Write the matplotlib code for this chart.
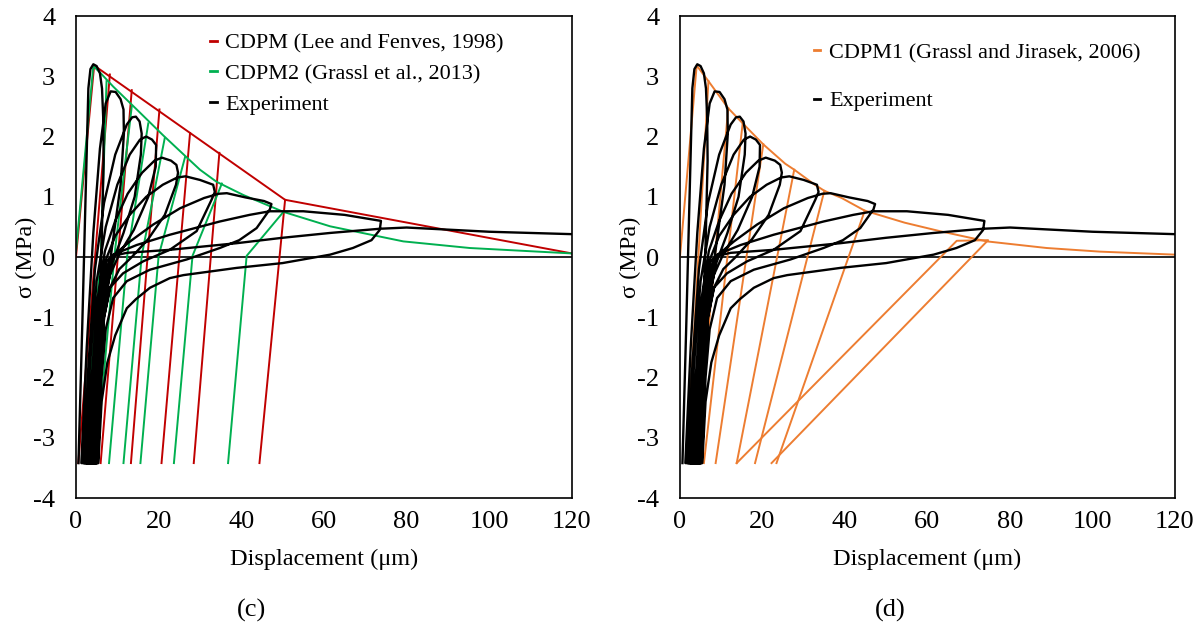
import numpy as np
import matplotlib.pyplot as plt
from matplotlib.lines import Line2D

plt.rcParams['font.family'] = ['Liberation Serif', 'DejaVu Serif']
plt.rcParams['axes.unicode_minus'] = False

# ---- experiment (same curve on both panels), one continuous path ----
exp_x = [0.6, 1.5, 2.4, 3.0, 3.5, 4.2, 5.0, 5.8, 6.3, 6.6,
         6.7, 6.2, 5.4, 4.7, 4.1,
         1.3, 2.6, 4.2, 5.8, 7.2, 8.4, 9.6, 10.8, 11.5,
         11.6, 10.8, 9.0, 7.4, 6.0, 5.0, 4.4,
         1.8, 3.0, 4.6, 6.8, 9.5, 12.3, 13.6, 14.5, 15.4, 15.9,
         15.7, 14.2, 11.5, 8.8, 7.0, 5.8, 5.0, 4.5,
         2.1, 3.4, 5.0, 7.2, 10.0, 13.0, 15.5, 17.0, 18.4, 19.4,
         19.3, 17.5, 14.0, 10.5, 8.2, 6.6, 5.5, 4.7,
         2.5, 3.8, 5.2, 7.0, 9.5, 12.5, 16.0, 19.0, 20.8, 23.0, 24.3, 24.7,
         24.2, 21.5, 17.5, 13.5, 10.5, 8.3, 6.8, 5.8, 4.9,
         2.8, 4.0, 5.5, 7.2, 9.5, 13.0, 17.0, 21.0, 24.5, 26.5, 30.0, 33.2, 33.6,
         32.8, 29.2, 22.7, 16.3, 11.4, 8.2, 6.8, 5.8, 5.0,
         3.1, 4.3, 5.8, 8.2, 13.1, 18.7, 25.2, 31.0, 34.5, 36.5, 41.0, 45.5, 47.3,
         46.9, 43.7, 39.5, 34.8, 26.8, 17.9, 12.3, 9.0, 7.2, 6.2, 5.3,
         3.4, 4.6, 6.2, 7.6, 9.0, 14.7, 22.7, 34.8, 42.0, 46.9, 55.0, 65.0, 73.8,
         73.5, 71.5, 67.0, 61.5, 50.0, 38.9, 26.0, 22.7, 17.9, 14.5, 12.3, 9.5, 7.6, 6.2, 5.4,
         3.7, 4.8, 5.6, 6.6, 7.4, 9.0, 12.3, 22.7, 38.9, 50.0, 61.5, 73.6, 80.0, 88.8, 100.0, 120.0]
exp_y = [-3.42, -1.2, 1.2, 2.8, 3.12, 3.2, 3.17, 3.05, 2.8, 2.3,
         1.6, 0.2, -1.3, -2.6, -3.42,
         -3.42, -1.5, 0.4, 1.8, 2.55, 2.75, 2.74, 2.62, 2.45,
         2.05, 1.2, 0.3, -0.5, -1.5, -2.5, -3.42,
         -3.42, -1.8, -0.2, 0.9, 1.7, 2.2, 2.32, 2.33, 2.25, 2.05,
         1.7, 1.0, 0.4, -0.1, -0.7, -1.6, -2.5, -3.42,
         -3.42, -1.8, -0.4, 0.5, 1.2, 1.7, 1.95, 2.0, 1.95, 1.86,
         1.5, 1.0, 0.45, 0.05, -0.3, -0.9, -1.9, -3.42,
         -3.42, -2.0, -0.7, 0.1, 0.6, 1.05, 1.4, 1.6, 1.65, 1.6, 1.53, 1.4,
         1.2, 0.7, 0.3, 0.0, -0.2, -0.5, -1.0, -2.0, -3.42,
         -3.42, -2.0, -0.8, -0.05, 0.35, 0.7, 1.0, 1.2, 1.32, 1.34, 1.28, 1.2, 1.08,
         0.95, 0.43, 0.12, -0.07, -0.27, -0.51, -1.0, -2.0, -3.42,
         -3.42, -2.0, -0.8, -0.02, 0.26, 0.54, 0.81, 0.98, 1.05, 1.06, 0.99, 0.93, 0.88,
         0.79, 0.48, 0.28, 0.15, -0.04, -0.21, -0.4, -0.68, -1.2, -2.0, -3.42,
         -3.42, -2.2, -0.9, -0.25, 0.04, 0.2, 0.37, 0.59, 0.7, 0.76, 0.76, 0.7, 0.6,
         0.45, 0.28, 0.15, 0.04, -0.1, -0.18, -0.3, -0.35, -0.51, -0.7, -0.85, -1.3, -1.75, -2.4, -3.42,
         -3.42, -2.4, -1.5, -0.6, -0.07, 0.02, 0.07, 0.12, 0.23, 0.32, 0.4, 0.47, 0.49, 0.46, 0.42, 0.38]

# ---- CDPM (Lee and Fenves, 1998) ----
cdpm_env_x = [0.0, 4.4, 50.6, 120.0]
cdpm_env_y = [0.0, 3.18, 0.95, 0.06]
cdpm_top_x = [8.2, 13.5, 20.2, 27.6, 34.7, 50.6]
cdpm_top_y = [3.03, 2.77, 2.45, 2.06, 1.73, 0.95]
cdpm_bot_x = [0.56, 5.97, 13.3, 20.7, 28.5, 44.4]

# ---- CDPM2 (Grassl et al., 2013) ----
cdpm2_env_x = [0.0, 4.2, 6.0, 9.0, 14.7, 21.1, 26.4, 30.0, 34.0, 40.5, 50.2, 61.5, 79.2, 95.3, 120.0]
cdpm2_env_y = [0.1, 3.17, 3.05, 2.83, 2.45, 2.02, 1.68, 1.45, 1.25, 1.03, 0.75, 0.51, 0.26, 0.15, 0.06]
cdpm2_top_x = [7.4, 13.5, 17.5, 21.5, 26.4, 35.3, 50.2]
cdpm2_top_y = [2.92, 2.5, 2.22, 1.98, 1.66, 1.22, 0.75]
cdpm2_kink_x = [6.0, 9.3, 12.4, 15.9, 20.0, 28.2, 41.3]
cdpm2_bot_x = [1.8, 4.84, 8.0, 11.5, 15.6, 23.7, 36.8]

# ---- CDPM1 (Grassl and Jirasek, 2006) ----
cdpm1_env_x = [0.0, 4.05, 6.9, 11.7, 15.2, 20.2, 25.5, 27.7, 32.7, 35.0, 39.2, 44.8,
               54.5, 63.0, 74.4, 88.9, 101.8, 120.0]
cdpm1_env_y = [0.0, 3.18, 2.92, 2.47, 2.22, 1.87, 1.55, 1.45, 1.2, 1.1, 0.98, 0.77,
               0.57, 0.43, 0.26, 0.15, 0.09, 0.04]
cdpm1_top_x = [6.9, 11.7, 15.2, 20.2, 27.7, 35.0, 44.8]
cdpm1_top_y = [2.92, 2.47, 2.22, 1.87, 1.45, 1.1, 0.77]
cdpm1_bot_x = [1.6, 4.0, 5.8, 8.65, 13.75, 18.2, 23.4]
cdpm1_cyc_x = [13.75, 67.1, 74.7, 22.2]
cdpm1_cyc_y = [-3.42, 0.27, 0.28, -3.42]

bot_y = -3.42
kink_y = 0.02

RED = '#C00000'
GREEN = '#00B050'
ORANGE = '#ED7D31'
FS = 19
LW_M = 1.4
LW_E = 1.7

fig = plt.figure(figsize=(12.02, 6.35), dpi=100)
ax1 = fig.add_axes([0.0632, 0.2157, 0.4126, 0.759])
ax2 = fig.add_axes([0.5657, 0.2157, 0.4118, 0.759])

for ax in (ax1, ax2):
    ax.set_xlim(0, 120)
    ax.set_ylim(-4, 4)
    ax.set_xticks(range(0, 121, 20))
    ax.set_yticks(range(-4, 5))
    ax.tick_params(length=0, labelsize=FS)
    ax.tick_params(axis='x', pad=9)
    ax.tick_params(axis='y', pad=15)
    for s in ax.spines.values():
        s.set_linewidth(1.2)
    ax.axhline(0, color='black', lw=1.2, zorder=1)
    ax.set_xlabel('Displacement (μm)', fontsize=17.5, labelpad=12)
    ax.set_ylabel('σ (MPa)', fontsize=17.5, labelpad=-3)

# left panel models
ax1.plot(cdpm_env_x, cdpm_env_y, color=RED, lw=LW_M, zorder=2)
for tx, ty, bx in zip(cdpm_top_x, cdpm_top_y, cdpm_bot_x):
    ax1.plot([tx, bx], [ty, bot_y], color=RED, lw=LW_M, zorder=2)
ax1.plot(cdpm2_env_x, cdpm2_env_y, color=GREEN, lw=LW_M, zorder=2)
for tx, ty, kx, bx in zip(cdpm2_top_x, cdpm2_top_y, cdpm2_kink_x, cdpm2_bot_x):
    ax1.plot([tx, kx, bx], [ty, kink_y, bot_y], color=GREEN, lw=LW_M, zorder=2)

# right panel model
ax2.plot(cdpm1_env_x, cdpm1_env_y, color=ORANGE, lw=LW_M, zorder=2)
for tx, ty, bx in zip(cdpm1_top_x, cdpm1_top_y, cdpm1_bot_x):
    ax2.plot([tx, bx], [ty, bot_y], color=ORANGE, lw=LW_M, zorder=2)
ax2.plot(cdpm1_cyc_x, cdpm1_cyc_y, color=ORANGE, lw=LW_M, zorder=2)

for ax in (ax1, ax2):
    ax.plot(exp_x, exp_y, color='black', lw=LW_E, zorder=3, solid_joinstyle='round')

h_red = Line2D([], [], color=RED, lw=2)
h_green = Line2D([], [], color=GREEN, lw=2)
h_orange = Line2D([], [], color=ORANGE, lw=2)
h_black = Line2D([], [], color='black', lw=2)

ax1.legend([h_red, h_green, h_black],
           ['CDPM (Lee and Fenves, 1998)', 'CDPM2 (Grassl et al., 2013)', 'Experiment'],
           loc='upper left', bbox_to_anchor=(0.270, 0.965), frameon=False,
           fontsize=16, handlelength=0.3, handletextpad=0.4, labelspacing=0.45,
           borderpad=0, borderaxespad=0)
ax2.legend([h_orange, h_black],
           ['CDPM1 (Grassl and Jirasek, 2006)', 'Experiment'],
           loc='upper left', bbox_to_anchor=(0.270, 0.945), frameon=False,
           fontsize=16, handlelength=0.3, handletextpad=0.4, labelspacing=1.25,
           borderpad=0, borderaxespad=0)

fig.text(252 / 1202, 1 - 610 / 635, '(c)', fontsize=19, ha='center', va='center')
fig.text(890 / 1202, 1 - 610 / 635, '(d)', fontsize=19, ha='center', va='center')

fig.savefig('out.png', dpi=100)
